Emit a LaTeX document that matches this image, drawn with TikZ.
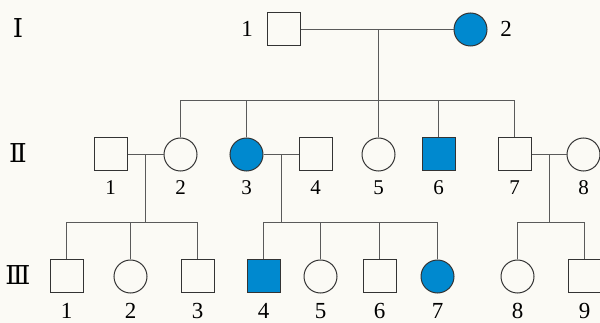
\documentclass[tikz,border=0pt]{standalone}
\usepackage{fontspec}
\setmainfont{Liberation Serif}
\newfontfamily\romfont{DejaVu Serif}
\definecolor{bgc}{HTML}{FBFAF5}
\definecolor{affc}{HTML}{0089CF}
\definecolor{edgec}{HTML}{333333}
\definecolor{linec}{HTML}{5A5A5A}
\begin{document}
\begin{tikzpicture}[x=1pt,y=-1pt,
  male/.style={draw=edgec,line width=1pt,rectangle,minimum size=33pt,inner sep=0pt,fill=bgc},
  female/.style={draw=edgec,line width=1pt,circle,minimum size=33pt,inner sep=0pt,fill=bgc},
  aff/.style={fill=affc},
  lbl/.style={font=\fontsize{21}{21}\selectfont,inner sep=0pt},
  biglbl/.style={font=\fontsize{23}{23}\selectfont,inner sep=0pt},
  gen/.style={font=\romfont\fontsize{26}{26}\selectfont,inner sep=0pt},
  conn/.style={draw=linec,line width=1.2pt}]
\fill[bgc] (0,0) rectangle (600,323);
\useasboundingbox (0,0) rectangle (600,323);
% generation labels
\node[gen] (gI) at (18,28) {Ⅰ};
\node[gen] (gII) at (18,153) {Ⅱ};
\node[gen] (gIII) at (18,275) {Ⅲ};
% generation I
\node[male] (I1) at (283.5,29.5) {};
\node[female,aff] (I2) at (470.5,29.5) {};
\node[biglbl] (lI1) at (247,29) {1};
\node[biglbl] (lI2) at (506,29) {2};
% generation II
\node[male] (II1) at (110.5,154.5) {};
\node[female] (II2) at (180.5,154.5) {};
\node[female,aff] (II3) at (246.5,154.5) {};
\node[male] (II4) at (315.5,154.5) {};
\node[female] (II5) at (378.5,154.5) {};
\node[male,aff] (II6) at (438.5,154.5) {};
\node[male] (II7) at (514.5,154.5) {};
\node[female] (II8) at (583.5,154.5) {};
\foreach \n/\x in {1/110.5,2/180.5,3/246.5,4/315.5,5/378.5,6/438.5,7/514.5,8/583.5}
  \node[lbl] (lII\n) at (\x,188) {\n};
% generation III
\node[male] (III1) at (66.5,276.5) {};
\node[female] (III2) at (130.5,276.5) {};
\node[male] (III3) at (197.5,276.5) {};
\node[male,aff] (III4) at (263.5,276.5) {};
\node[female] (III5) at (320.5,276.5) {};
\node[male] (III6) at (379.5,276.5) {};
\node[female,aff] (III7) at (437.5,276.5) {};
\node[female] (III8) at (517.5,276.5) {};
\node[male] (III9) at (584.5,276.5) {};
\foreach \n/\x in {1/66.5,2/130.5,3/197.5,4/263.5,5/320.5,6/379.5,7/437.5,8/517.5,9/584.5}
  \node[biglbl] (lIII\n) at (\x,311) {\n};
% matings and descents
\coordinate (m1) at (378.5,29.5);
\coordinate (s1) at (378.5,100.5);
\coordinate (m2) at (145.5,154.5);
\coordinate (s2) at (145.5,222.5);
\coordinate (m3) at (281.5,154.5);
\coordinate (s3) at (281.5,222.5);
\coordinate (m4) at (549.5,154.5);
\coordinate (s4) at (549.5,222.5);
\draw[conn] (I1.east) -- (I2.west);
\draw[conn] (m1) -- (s1);
\draw[conn] (II2.north) -- (II2.north |- s1) -- (II7.north |- s1) -- (II7.north);
\foreach \c in {II3,II5,II6} \draw[conn] (\c.north) -- (\c.north |- s1);
\draw[conn] (II1.east) -- (II2.west);
\draw[conn] (m2) -- (s2);
\draw[conn] (II3.east) -- (II4.west);
\draw[conn] (m3) -- (s3);
\draw[conn] (II7.east) -- (II8.west);
\draw[conn] (m4) -- (s4);
\draw[conn] (III1.north) -- (III1.north |- s2) -- (III3.north |- s2) -- (III3.north);
\draw[conn] (III2.north) -- (III2.north |- s2);
\draw[conn] (III4.north) -- (III4.north |- s3) -- (III7.north |- s3) -- (III7.north);
\foreach \c in {III5,III6} \draw[conn] (\c.north) -- (\c.north |- s3);
\draw[conn] (III8.north) -- (III8.north |- s4) -- (III9.north |- s4) -- (III9.north);
\end{tikzpicture}
\end{document}
